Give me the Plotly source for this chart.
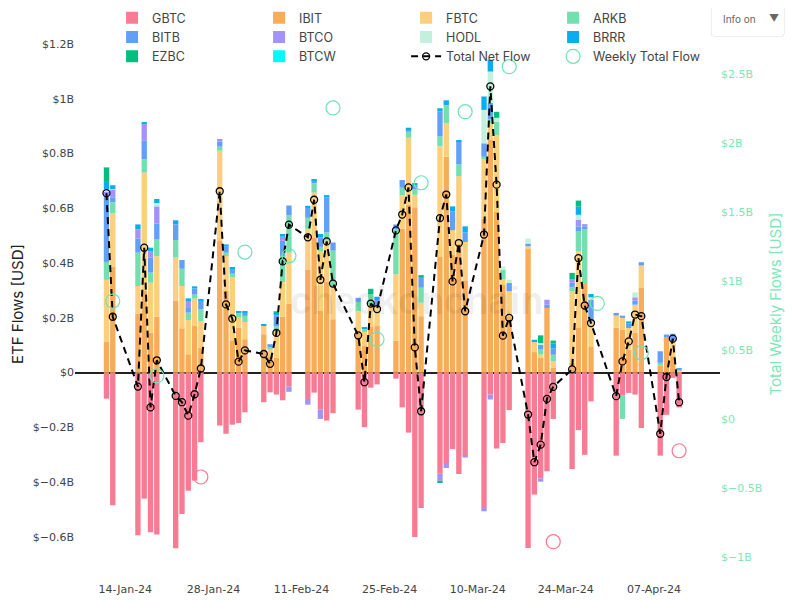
import plotly.graph_objects as go

dates = ["2024-01-11","2024-01-12",
         "2024-01-16","2024-01-17","2024-01-18","2024-01-19",
         "2024-01-22","2024-01-23","2024-01-24","2024-01-25","2024-01-26",
         "2024-01-29","2024-01-30","2024-01-31","2024-02-01","2024-02-02",
         "2024-02-05","2024-02-06","2024-02-07","2024-02-08","2024-02-09",
         "2024-02-12","2024-02-13","2024-02-14","2024-02-15","2024-02-16",
         "2024-02-20","2024-02-21","2024-02-22","2024-02-23",
         "2024-02-26","2024-02-27","2024-02-28","2024-02-29","2024-03-01",
         "2024-03-04","2024-03-05","2024-03-06","2024-03-07","2024-03-08",
         "2024-03-11","2024-03-12","2024-03-13","2024-03-14","2024-03-15",
         "2024-03-18","2024-03-19","2024-03-20","2024-03-21","2024-03-22",
         "2024-03-25","2024-03-26","2024-03-27","2024-03-28",
         "2024-04-01","2024-04-02","2024-04-03","2024-04-04","2024-04-05",
         "2024-04-08","2024-04-09","2024-04-10","2024-04-11"]

# daily flows, US$ millions
GBTC = [-95, -484,
        -594, -460, -583, -591,
        -641, -516, -431, -394, -254,
        -193, -223, -190, -184, -145,
        -108, -72, -80, -101, -51,
        -96, -73, -135, -175, -148,
        -135, -199, -55, -43,
        -22, -127, -219, -600, -494,
        -369, -330, -279, -370, -303,
        -494, -80, -277, -257, -137,
        -640, -445, -386, -360, -169,
        -352, -210, -300, -105,
        -303, -84, -74, -80, -202,
        -303, -154, -19, -127]
IBIT = [111.7, 386,
        215, 300, 146, 204,
        262, 162, 67, 170, 91,
        480, 298, 118, 164, 122,
        140, 60, 55, 204, 252,
        377, 493, 225, 332, 195,
        147, 97, 169, 170,
        116, 525, 612, 604, 206,
        422, 788, 430, 470, 337,
        563, 849, 586, 320, 206,
        451, 75, 54, 236, 17,
        35, 163, 327, 96,
        164, 157, 84, 145, 309,
        26, 130, 60, 0]
FBTC = [227, 195,
        101, 430, 182, 221,
        158, 154, 125, 100, 97,
        330, 128, 231, 37, 63,
        33, 24, 94, 127, 186,
        148, 164, 219, 150, 116,
        77, 51, 79, 73,
        243, 122, 245, 45, 49,
        404, 122, 90, 247, 140,
        215, 60, 281, 20, 91,
        10, 40, 12, 0, 24,
        261, 280, 0, 91,
        44, 43, 79, 103, 82,
        0, 0, 55, 8]
ARKB = [65.3, 41,
        122, 49, 37, 61,
        64, 63, 27, 15, 43,
        15, 12, 12, 18, 22,
        0, 8, 20, 95, 136,
        40, 34, 15, 30, 134,
        34, 12, 39, 0,
        164, 28, 22, 20, 55,
        36, 67, 0, 43, 0,
        10, 15, 48, 36, 0,
        0, 0, 18, 0, 24,
        17, 73, 197, 0,
        0, -85, 0, 0, 0,
        10, 0, 0, 0]
BITB = [237.9, 18,
        51, 67, 55, 58,
        57, 32, 20, 22, 34,
        18, 22, 18, 0, 12,
        0, 12, 40, 55, 36,
        36, 11, 35, 128, 30,
        15, 0, 0, 22,
        18, 28, 10, 13, 36,
        91, 0, 68, 85, 35,
        49, 60, 0, 0, 30,
        10, 0, 18, 12, 24,
        15, 18, 10, 79,
        10, 8, 16, 15, 12,
        42, 9, 27, 9]
BTCO = [17.4, 28,
        34, 61, 22, 63,
        0, 0, 20, 0, 0,
        10, 0, 0, 0, 0,
        0, 0, 0, 15, -19,
        -21, 0, -34, 0, 0,
        0, 0, 0, 0,
        0, 0, 0, 0, 0,
        -26, -18, 0, 0, -7,
        -12, -18, 0, 0, 0,
        0, 0, -12, 18, 0,
        12, 24, 8, 0,
        0, 0, 0, 12, 0,
        0, 0, 0, 0]
HODL = [10.6, 2,
        0, 0, 0, 12,
        0, 0, 0, 0, 0,
        0, 0, 0, 0, 0,
        0, 0, 0, 0, 0,
        0, 0, 0, 0, 0,
        0, 0, 0, 0,
        0, 0, 0, 0, 0,
        0, 0, 0, 0, 0,
        122, 115, 15, 12, 12,
        18, 0, 6, 0, 0,
        0, 18, 0, 9,
        0, 0, 0, 18, 0,
        0, 0, 0, 0]
BRRR = [29.4, 14,
        18, 8, 14, 15,
        15, 0, 12, 8, 4,
        0, 8, 5, 5, 5,
        2, 0, 8, 10, 0,
        8, 4, 12, 8, 0,
        0, 4, 0, 12,
        0, 0, 5, 10, 0,
        12, 17, 19, 4, 22,
        49, 43, 0, 0, 0,
        0, 5, 0, 0, 18,
        0, 30, 0, 12,
        0, 0, 8, 0, 0,
        0, 0, 0, 0]
EZBC = [50.1, 0,
        0, 0, 0, 0,
        0, 0, 0, 0, 0,
        0, 0, 0, 0, 0,
        0, 0, 7, 0, 0,
        0, 0, 0, 0, 0,
        0, 0, 19, 0,
        0, 0, 0, 0, 10,
        -8, 0, 0, 0, 0,
        0, 0, 22, 0, 0,
        0, 0, 28, 0, 10,
        24, 22, 0, 0,
        0, 0, 0, 0, 0,
        0, 0, 0, 0]
BTCW = [1.0, 0,
        0, 0, 0, 0,
        0, 0, 0, 0, 0,
        0, 0, 0, 0, 0,
        0, 0, 0, 0, 0,
        0, 0, 0, 0, 0,
        0, 0, 0, 0,
        0, 0, 0, 0, 0,
        0, 0, 0, 0, 0,
        0, 0, 0, 0, 0,
        0, 0, 0, 0, 0,
        0, 0, 0, 0,
        0, 0, 0, 0, 0,
        0, 0, 0, 0]
total_net = [655, 204,
             -51, 456, -127, 45,
             -85, -108, -157, -79, 15,
             662, 249, 197, 40, 81,
             68, 32, 145, 406, 540,
             494, 631, 339, 479, 325,
             136, -35, 252, 232,
             519, 577, 676, 92, -141,
             564, 650, 333, 473, 224,
             504, 1045, 686, 135, 200,
             -153, -327, -263, -96, -52,
             12, 418, 245, 181,
             -86, 41, 114, 212, 206,
             -223, -16, 124, -108]

week_dates = ["2024-01-12","2024-01-19","2024-01-26","2024-02-02","2024-02-09",
              "2024-02-16","2024-02-23","2024-03-01","2024-03-08","2024-03-15",
              "2024-03-22","2024-03-29","2024-04-05","2024-04-11"]
weekly_total = [855, 312, -420, 1210, 1183, 2254, 578, 1712, 2227, 2553,
                -889, 838, 480, -230]

tick_dates = ["2024-01-14","2024-01-28","2024-02-11","2024-02-25",
              "2024-03-10","2024-03-24","2024-04-07"]
tick_text = ["14-Jan-24","28-Jan-24","11-Feb-24","25-Feb-24",
             "10-Mar-24","24-Mar-24","07-Apr-24"]

series = [("GBTC", GBTC, "#F67B93"), ("IBIT", IBIT, "#F6AC58"),
          ("FBTC", FBTC, "#FBCF7C"), ("ARKB", ARKB, "#72DFAE"),
          ("BITB", BITB, "#62A0F6"), ("BTCO", BTCO, "#A393F6"),
          ("HODL", HODL, "#C3F0DD"), ("BRRR", BRRR, "#09AEEF"),
          ("EZBC", EZBC, "#00BF7E"), ("BTCW", BTCW, "#00FBFB")]

M = 1e6
fig = go.Figure()
for name, vals, col in series:
    fig.add_trace(go.Bar(x=dates, y=[v * M for v in vals], name=name,
                         marker=dict(color=col, line=dict(width=0))))

fig.add_trace(go.Scatter(x=dates, y=[v * M for v in total_net], name="Total Net Flow",
                         mode="lines+markers",
                         line=dict(color="black", width=2, dash="7px,5px"),
                         marker=dict(symbol="circle-open", size=7, color="black",
                                     line=dict(width=1.3, color="black"))))

wk_colors = ["#6EE3B2" if v >= 0 else "#F67B93" for v in weekly_total]
fig.add_trace(go.Scatter(x=week_dates, y=[v * M for v in weekly_total],
                         name="Weekly Total Flow", mode="markers", yaxis="y2",
                         marker=dict(symbol="circle-open", size=14, color=wk_colors,
                                     line=dict(width=1.2, color=wk_colors))))

tick_font = dict(family="DejaVu Sans", size=11, color="#444")
fig.update_layout(
    width=800, height=600,
    margin=dict(l=67, r=88, t=26, b=34, autoexpand=False),
    barmode="relative", bargap=0.15,
    plot_bgcolor="white", paper_bgcolor="white",
    font=dict(family="Inter", size=12, color="#444"),
    showlegend=True,
    legend=dict(orientation="h", x=0.0575, xanchor="left", y=1.057, yanchor="top",
                entrywidth=102, entrywidthmode="pixels",
                bgcolor="rgba(255,255,255,0)", font=dict(size=12.5, color="#444"),
                tracegroupgap=0),
    xaxis=dict(type="date", range=["2024-01-06", "2024-04-17 12:00"],
               tickvals=tick_dates, ticktext=tick_text, showgrid=False,
               zeroline=False, showline=False, tickfont=tick_font,
               ticks="outside", ticklen=5, tickcolor="rgba(0,0,0,0)"),
    yaxis=dict(range=[-0.735e9, 1.236e9], dtick=0.2e9, tickprefix="$",
               exponentformat="B", showgrid=False, zeroline=True,
               zerolinecolor="#222", zerolinewidth=1.5, showline=False,
               tickfont=tick_font,
               title=dict(text="ETF Flows [USD]", font=dict(size=15, color="#222"))),
    yaxis2=dict(range=[-1.123e9, 2.79e9], dtick=0.5e9, tickprefix="$",
                exponentformat="B", overlaying="y", side="right", showgrid=False,
                zeroline=False, showline=False,
                tickfont=dict(family="DejaVu Sans", size=11, color="#7EE6B8"),
                title=dict(text="Total Weekly Flows [USD]", standoff=9,
                           font=dict(size=15, color="#7EE6B8"))),
    annotations=[dict(text="<b>checkonchain</b>", xref="paper", yref="paper",
                      x=0.53, y=0.505, showarrow=False,
                      font=dict(family="Liberation Sans", size=38,
                                color="rgba(0,0,0,0.07)"))],
    updatemenus=[dict(type="dropdown", x=0.9845, xanchor="left", y=1.06, yanchor="top",
                      showactive=False, bgcolor="white", bordercolor="#eeeeee",
                      font=dict(size=10, color="#666"), pad=dict(t=0, b=0, l=0, r=0),
                      buttons=[dict(label="Info on", method="skip", args=[None])])],
)

fig.write_html("out.html")
